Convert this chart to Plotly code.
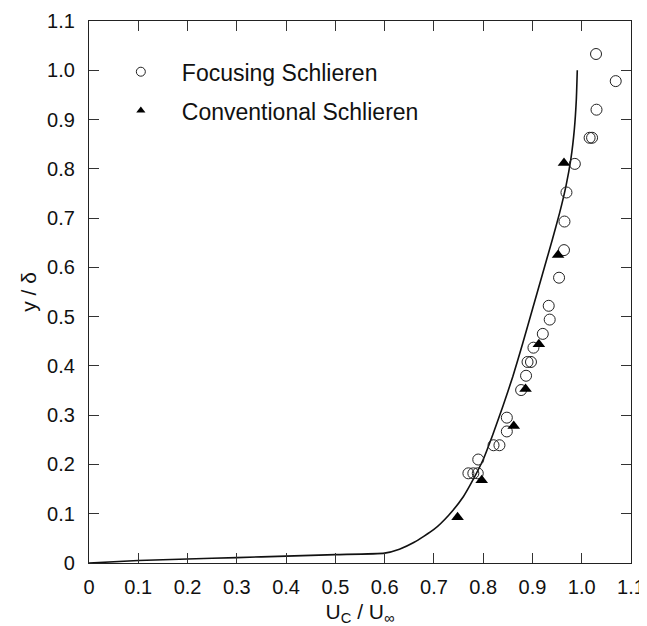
import plotly.graph_objects as go

# Focusing Schlieren (open circles)
focus_x = [0.770, 0.780, 0.789, 0.790, 0.821, 0.833, 0.848, 0.848, 0.877, 0.887,
           0.890, 0.897, 0.902, 0.921, 0.935, 0.933, 0.954, 0.964, 0.965, 0.969,
           0.986, 1.016, 1.021, 1.030, 1.069, 1.029]
focus_y = [0.182, 0.182, 0.182, 0.210, 0.239, 0.239, 0.267, 0.295, 0.351, 0.380,
           0.408, 0.408, 0.437, 0.465, 0.494, 0.522, 0.579, 0.635, 0.693, 0.752,
           0.810, 0.863, 0.863, 0.920, 0.978, 1.033]

# Conventional Schlieren (filled triangles)
conv_x = [0.748, 0.797, 0.862, 0.886, 0.913, 0.952, 0.964]
conv_y = [0.093, 0.168, 0.278, 0.353, 0.444, 0.625, 0.812]

# Reference curve
curve_x = [0.0, 0.1, 0.2, 0.3, 0.4, 0.5, 0.6, 0.63, 0.66, 0.70, 0.73, 0.76, 0.78,
           0.80, 0.82, 0.84, 0.86, 0.88, 0.90, 0.92, 0.94, 0.955, 0.968, 0.978,
           0.985, 0.989, 0.991]
curve_y = [0.0, 0.005, 0.008, 0.011, 0.014, 0.017, 0.020, 0.028, 0.042, 0.068, 0.097,
           0.135, 0.170, 0.210, 0.262, 0.318, 0.378, 0.445, 0.515, 0.585, 0.655,
           0.710, 0.765, 0.820, 0.880, 0.940, 1.000]

tick_vals = [0, 0.1, 0.2, 0.3, 0.4, 0.5, 0.6, 0.7, 0.8, 0.9, 1.0, 1.1]
tick_text = ["0", "0.1", "0.2", "0.3", "0.4", "0.5", "0.6", "0.7", "0.8", "0.9", "1.0", "1.1"]

FONT = "Liberation Sans, Arial, Helvetica, sans-serif"

fig = go.Figure()
fig.add_trace(go.Scatter(x=curve_x, y=curve_y, mode="lines",
                         line=dict(color="#111", width=1.6, shape="spline", smoothing=0.5),
                         showlegend=False, hoverinfo="skip"))
fig.add_trace(go.Scatter(x=focus_x, y=focus_y, mode="markers",
                         marker=dict(symbol="circle-open", size=11, color="#222",
                                     line=dict(width=1, color="#222")),
                         showlegend=False))
fig.add_trace(go.Scatter(x=conv_x, y=conv_y, mode="markers",
                         marker=dict(symbol="triangle-up", size=11, color="#000"),
                         showlegend=False))
# legend entries (smaller markers as in reference)
fig.add_trace(go.Scatter(x=[None], y=[None], mode="markers", name="Focusing Schlieren",
                         legendgroup="a",
                         marker=dict(symbol="circle-open", size=9, color="#222",
                                     line=dict(width=1, color="#222"))))
fig.add_trace(go.Scatter(x=[None], y=[None], mode="markers", name="Conventional Schlieren",
                         legendgroup="b",
                         marker=dict(symbol="triangle-up", size=8, color="#000")))

axis_common = dict(
    tickmode="array", tickvals=tick_vals, ticktext=tick_text,
    ticks="inside", ticklen=10, tickwidth=1, tickcolor="#333",
    showline=True, linecolor="#222", linewidth=1.2, mirror="ticks",
    showgrid=False, zeroline=False, automargin=False,
    tickfont=dict(family=FONT, size=20, color="#111"),
)

fig.update_layout(
    width=639, height=618,
    margin=dict(l=81, r=16, t=13, b=63),
    paper_bgcolor="white", plot_bgcolor="white",
    font=dict(family=FONT, color="#111"),
    xaxis=dict(range=[0, 1.1], title=dict(text="U<sub>C</sub> / U<sub>∞</sub>",
                                          font=dict(family=FONT, size=21), standoff=15),
               ticklabelstandoff=6, **axis_common),
    yaxis=dict(range=[0, 1.1], title=dict(text="y / δ", font=dict(family=FONT, size=21),
                                          standoff=4),
               ticklabelstandoff=9, **axis_common),
    legend=dict(x=0.02, y=0.946, xanchor="left", yanchor="top",
                font=dict(family=FONT, size=23, color="#111"),
                bgcolor="rgba(0,0,0,0)", tracegroupgap=6, itemwidth=72),
)

fig.write_html("out.html")
